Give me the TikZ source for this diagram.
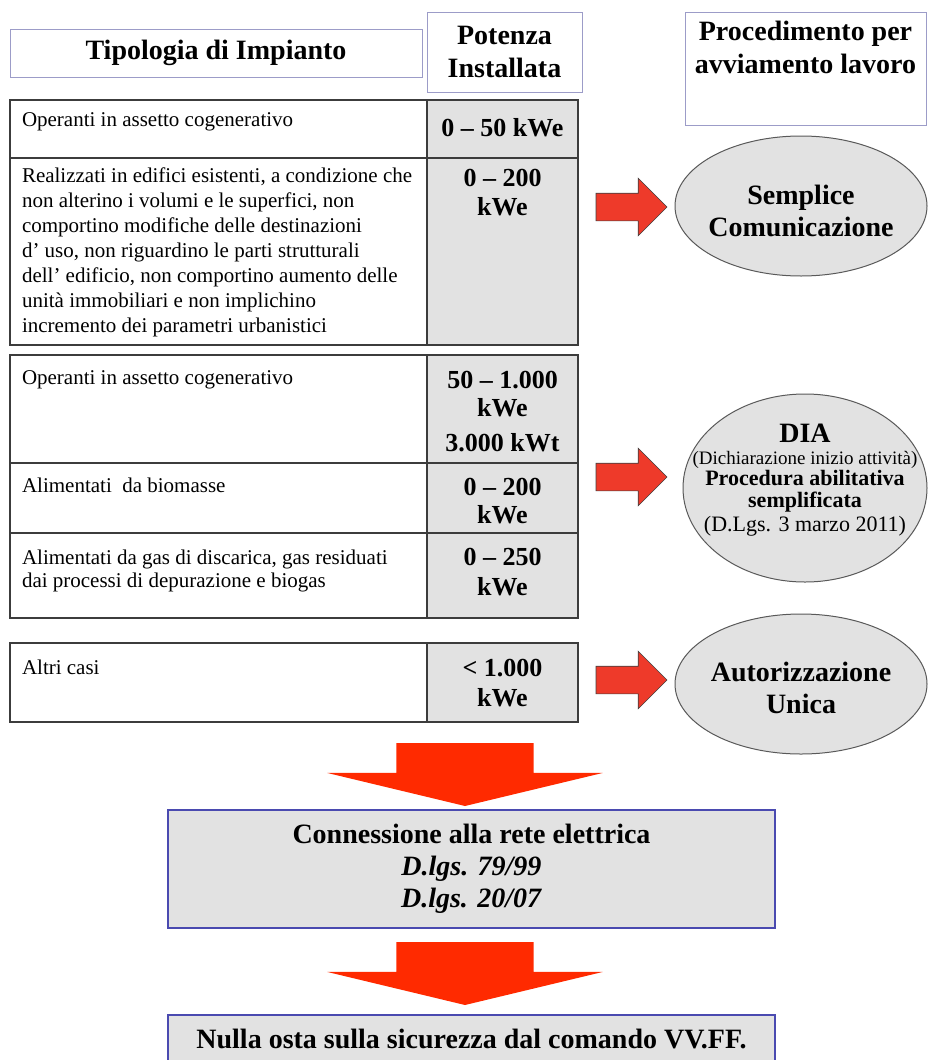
\documentclass[tikz,border=0pt]{standalone}
\usepackage{fontspec}
\setmainfont{Liberation Serif}
\usetikzlibrary{positioning,shapes.geometric,shapes.arrows}
\definecolor{tabline}{HTML}{3C3C3C}
\definecolor{cellgray}{HTML}{E2E2E2}
\definecolor{hdrline}{HTML}{9C9CC8}
\definecolor{boxline}{HTML}{4A4AB0}
\definecolor{arrred}{HTML}{EE3A2A}
\definecolor{downred}{HTML}{FF2A00}

\begin{document}
\begin{tikzpicture}[x=1pt, y=-1pt,
    every node/.style={inner sep=0pt, outer sep=0pt},
    hdr/.style={draw=hdrline, line width=1pt, anchor=north west, align=center,
        font=\bfseries\fontsize{28}{33}\selectfont},
    lcell/.style={draw=tabline, line width=1.5pt, anchor=north west, minimum width=417pt},
    vcell/.style={lcell, fill=cellgray, minimum width=151pt},
    ltext/.style={anchor=north west, align=left, font=\fontsize{21}{25}\selectfont},
    vtext/.style={anchor=north, align=center, font=\bfseries\fontsize{26}{29}\selectfont},
    proc/.style={ellipse, draw=black!65, line width=1pt, fill=cellgray},
    proctext/.style={align=center, font=\bfseries\fontsize{28}{32}\selectfont},
    goright/.style={single arrow, draw=black!75, line width=0.6pt, fill=arrred, anchor=tail,
        inner xsep=0pt, inner ysep=13.5pt, minimum height=71pt, single arrow head extend=15pt},
    godown/.style={single arrow, fill=downred, anchor=tail, rotate=-90,
        inner xsep=0pt, inner ysep=68.5pt, minimum height=63pt, single arrow head extend=69pt,
        single arrow tip angle=153},
    stepbox/.style={draw=boxline, line width=2.5pt, fill=cellgray, anchor=north west,
        minimum width=607pt, align=center, font=\bfseries\fontsize{28}{32}\selectfont}]

    \useasboundingbox (0,0) rectangle (928,1060);

    % intestazioni
    \node[hdr, minimum width=412pt, minimum height=48pt] (tipo) at (10,29) {Tipologia di Impianto};
    \node[hdr, minimum width=155pt, minimum height=80pt] (pot) at (427,12) {Potenza\\Installata};
    \node[hdr, minimum width=241pt, minimum height=113pt] (proc) at (685,12) {};
    \node[font=\bfseries\fontsize{28}{33}\selectfont, align=center, below=9pt of proc.north]
        (proctxt) {Procedimento per\\avviamento lavoro};

    % prima tabella
    \node[lcell, minimum height=58pt] (a1) at (10,100) {};
    \node[vcell, minimum height=58pt] (b1) at (427,100) {};
    \node[lcell, minimum height=187pt] (a2) at (10,158) {};
    \node[vcell, minimum height=187pt] (b2) at (427,158) {};
    \node[ltext, below right=13pt and 12pt of a1.north west] (ta1) {Operanti in assetto cogenerativo};
    \node[ltext, below right=10pt and 12pt of a2.north west] (ta2)
        {Realizzati in edifici esistenti, a condizione che\\
         non alterino i volumi e le superfici, non\\
         comportino modifiche delle destinazioni\\
         d' uso, non riguardino le parti strutturali\\
         dell' edificio, non comportino aumento delle\\
         unità immobiliari e non implichino\\
         incremento dei parametri urbanistici};
    \node[vtext, below=18pt of b1.north] (tb1) {0 -- 50 kWe};
    \node[vtext, below=11pt of b2.north] (tb2) {0 -- 200\\kWe};

    % seconda tabella
    \node[lcell, minimum height=108pt] (a3) at (10,355) {};
    \node[vcell, minimum height=108pt] (b3) at (427,355) {};
    \node[lcell, minimum height=70pt] (a4) at (10,463) {};
    \node[vcell, minimum height=70pt] (b4) at (427,463) {};
    \node[lcell, minimum height=85pt] (a5) at (10,533) {};
    \node[vcell, minimum height=85pt] (b5) at (427,533) {};
    \node[ltext, below right=16pt and 12pt of a3.north west] (ta3) {Operanti in assetto cogenerativo};
    \node[ltext, below right=15pt and 12pt of a4.north west] (ta4) {Alimentati\ \ da biomasse};
    \node[ltext, below right=17pt and 12pt of a5.north west] (ta5)
        {Alimentati da gas di discarica, gas residuati\\[-2pt]dai processi di depurazione e biogas};
    \node[vtext, below=16pt of b3.north] (tb3) {50 -- 1.000\\[-1pt]kWe\\[6pt]3.000 kWt};
    \node[vtext, below=15pt of b4.north] (tb4) {0 -- 200\\[-1pt]kWe};
    \node[vtext, below=15pt of b5.north] (tb5) {0 -- 250\\[1pt]kWe};

    % terza tabella
    \node[lcell, minimum height=79pt] (a6) at (10,643) {};
    \node[vcell, minimum height=79pt] (b6) at (427,643) {};
    \node[ltext, below right=17pt and 12pt of a6.north west] (ta6) {Altri casi};
    \node[vtext, below=16pt of b6.north] (tb6) {< 1.000\\[1pt]kWe};

    % procedimenti
    \node[goright] (r1) at (596,207) {};
    \node[goright] (r2) at (596,477) {};
    \node[goright] (r3) at (596,680) {};
    \node[proc, minimum width=252pt, minimum height=140pt] (sempl) at (801,206) {};
    \node[proctext, yshift=-5pt] (sempltxt) at (sempl) {Semplice\\Comunicazione};
    \node[proc, minimum width=244pt, minimum height=188pt] (dia) at (805,488) {};
    \node[proctext, font=\bfseries\fontsize{22}{21}\selectfont, yshift=8pt] (diatxt) at (dia)
        {{\fontsize{28}{28}\selectfont DIA}\\[1pt]
         {\mdseries\fontsize{19}{19}\selectfont (Dichiarazione inizio attività)}\\[0pt]
         Procedura abilitativa\\[1pt]
         semplificata\\[3pt]
         {\mdseries (D.Lgs. 3 marzo 2011)}};
    \node[proc, minimum width=252pt, minimum height=140pt] (aut) at (801,684) {};
    \node[proctext, yshift=-4pt] (auttxt) at (aut) {Autorizzazione\\Unica};

    % connessione e nulla osta
    \node[godown] (d1) at (465,743) {};
    \node[stepbox, minimum height=118pt] (conn) at (168,810)
        {Connessione alla rete elettrica\\ \textit{D.lgs. 79/99}\\ \textit{D.lgs. 20/07}};
    \node[godown] (d2) at (465,942) {};
    \node[stepbox, minimum height=48pt] (nulla) at (168,1015)
        {Nulla osta sulla sicurezza dal comando VV.FF.};

\end{tikzpicture}
\end{document}
